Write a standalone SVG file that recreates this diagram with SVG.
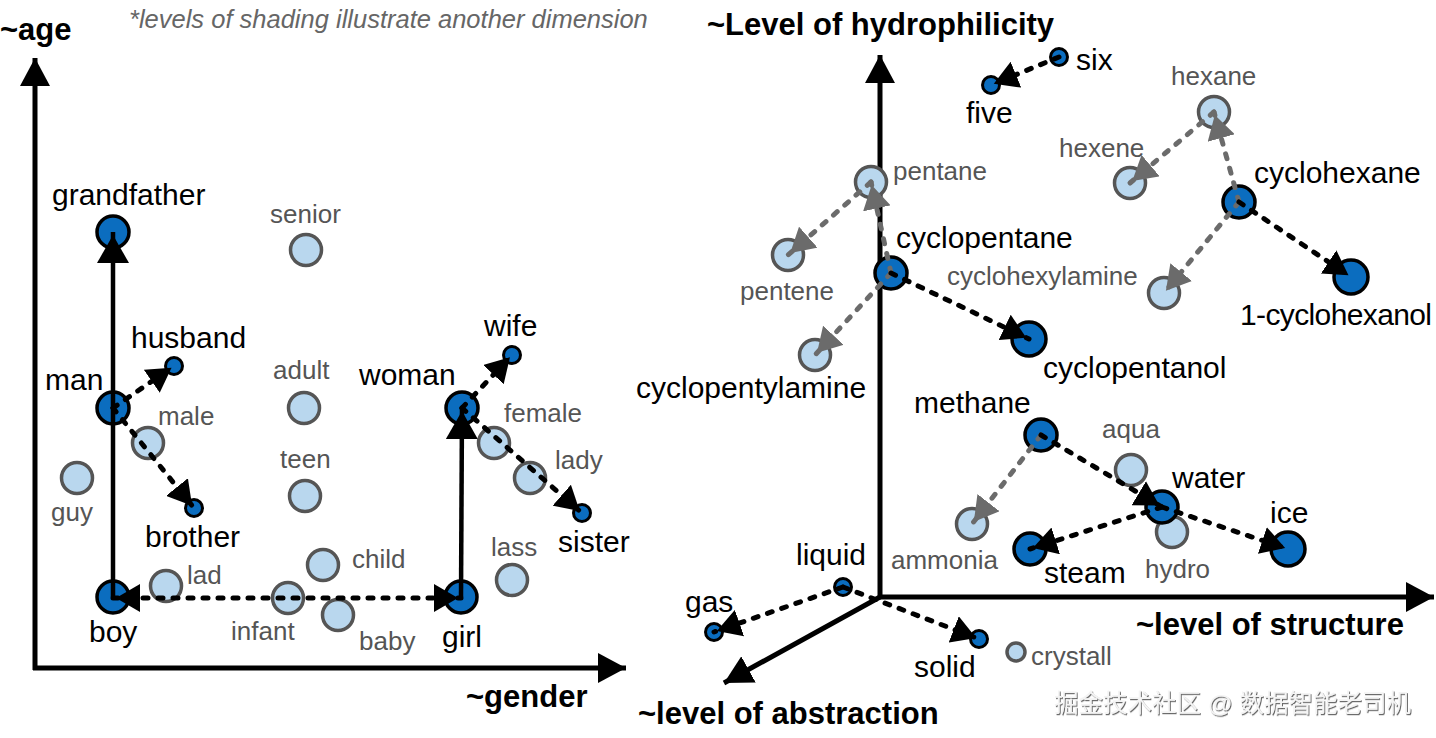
<svg xmlns="http://www.w3.org/2000/svg" width="1436" height="738" viewBox="0 0 1436 738">
<style>
  .lbl{font-family:"Liberation Sans",Arial,sans-serif;font-size:30px;fill:#000}
  .gl{font-family:"Liberation Sans",Arial,sans-serif;font-size:26px;fill:#555}
  .ax{font-family:"Liberation Sans",Arial,sans-serif;font-size:31px;font-weight:bold;fill:#000}
  .note{font-family:"Liberation Sans",Arial,sans-serif;font-size:25.5px;font-style:italic;fill:#666}
  .wm{font-family:"Liberation Sans","Noto Sans CJK SC",sans-serif;font-size:24.5px;fill:#f4f4f4}
  .dk{fill:#0b6dbf;stroke:#000;stroke-width:3.5}
  .sd{fill:#0b6dbf;stroke:#000;stroke-width:3}
  .lt{fill:#b9d7ee;stroke:#555;stroke-width:3.5}
  .axis{stroke:#000;stroke-width:5;fill:none}
  .sol{stroke:#000;stroke-width:4.5;fill:none}
  .db{stroke:#000;stroke-width:5;fill:none;stroke-dasharray:5 10;stroke-linecap:round}
  .dg{stroke:#6b6b6b;stroke-width:5;fill:none;stroke-dasharray:5 10;stroke-linecap:round}
</style>
<defs>
  <marker id="mAx" markerUnits="userSpaceOnUse" markerWidth="28" markerHeight="30" refX="28" refY="15" orient="auto" viewBox="0 0 28 30"><path d="M0,0 L28,15 L0,30 Z" fill="#000"/></marker>
  <marker id="mS" markerUnits="userSpaceOnUse" markerWidth="32" markerHeight="32" refX="31" refY="16" orient="auto" viewBox="0 0 32 32"><path d="M0,0 L28,16 L0,32 Z" fill="#000"/></marker>
  <marker id="mB" markerUnits="userSpaceOnUse" markerWidth="28" markerHeight="28" refX="27" refY="14" orient="auto-start-reverse" viewBox="0 0 28 28"><path d="M0,0 L24,14 L0,28 Z" fill="#000"/></marker>
  <marker id="mG" markerUnits="userSpaceOnUse" markerWidth="28" markerHeight="28" refX="27" refY="14" orient="auto" viewBox="0 0 28 28"><path d="M0,0 L24,14 L0,28 Z" fill="#6b6b6b"/></marker>
  <filter id="sh" x="-5%" y="-20%" width="110%" height="140%"><feDropShadow dx="1" dy="1.2" stdDeviation="0.6" flood-color="#555" flood-opacity="0.9"/></filter>
</defs>
<rect width="1436" height="738" fill="#fff"/>

<g id="axes">
  <line class="axis" x1="35" y1="670" x2="35" y2="58" marker-end="url(#mAx)"/>
  <line class="axis" x1="33" y1="668" x2="626" y2="668" marker-end="url(#mAx)"/>
  <line class="axis" x1="880" y1="599" x2="880" y2="55" marker-end="url(#mAx)"/>
  <line class="axis" x1="878" y1="597" x2="1434" y2="597" marker-end="url(#mAx)"/>
  <line class="axis" x1="880" y1="597" x2="724" y2="683" marker-end="url(#mAx)"/>
  <text class="ax" x="0" y="40">~age</text>
  <text class="ax" x="466" y="707">~gender</text>
  <text class="ax" x="707" y="35">~Level of hydrophilicity</text>
  <text class="ax" x="1136" y="635">~level of structure</text>
  <text class="ax" x="638" y="724">~level of abstraction</text>
  <text class="note" x="129" y="28">*levels of shading illustrate another dimension</text>
</g>

<g id="n-grandfather"><circle class="dk" cx="113" cy="232" r="16"/><text class="lbl" x="52" y="205">grandfather</text></g>
<g id="n-senior"><circle class="lt" cx="306" cy="250" r="15.5"/><text class="gl" x="270" y="223">senior</text></g>
<g id="n-man"><circle class="dk" cx="113" cy="408" r="16"/><text class="lbl" x="45" y="390">man</text></g>
<g id="n-husband"><circle class="sd" cx="174" cy="366" r="8.5"/><text class="lbl" x="131" y="348">husband</text></g>
<g id="n-male"><circle class="lt" cx="148" cy="443" r="15.5"/><text class="gl" x="158" y="425">male</text></g>
<g id="n-guy"><circle class="lt" cx="77" cy="478" r="15.5"/><text class="gl" x="51" y="521">guy</text></g>
<g id="n-brother"><circle class="sd" cx="194" cy="508" r="8.5"/><text class="lbl" x="145" y="547">brother</text></g>
<g id="n-adult"><circle class="lt" cx="304" cy="408" r="15.5"/><text class="gl" x="273" y="379">adult</text></g>
<g id="n-teen"><circle class="lt" cx="305" cy="496" r="15.5"/><text class="gl" x="280" y="468">teen</text></g>
<g id="n-woman"><circle class="dk" cx="462" cy="408" r="16"/><text class="lbl" x="359" y="385">woman</text></g>
<g id="n-wife"><circle class="sd" cx="512" cy="355" r="8.5"/><text class="lbl" x="484" y="336">wife</text></g>
<g id="n-female"><circle class="lt" cx="494" cy="443" r="15.5"/><text class="gl" x="504" y="422">female</text></g>
<g id="n-lady"><circle class="lt" cx="530" cy="478" r="15.5"/><text class="gl" x="555" y="469">lady</text></g>
<g id="n-sister"><circle class="sd" cx="582" cy="513" r="8.5"/><text class="lbl" x="558" y="552">sister</text></g>
<g id="n-lass"><circle class="lt" cx="512" cy="580" r="15.5"/><text class="gl" x="491" y="556">lass</text></g>
<g id="n-child"><circle class="lt" cx="323" cy="565" r="15.5"/><text class="gl" x="352" y="568">child</text></g>
<g id="n-lad"><circle class="lt" cx="166" cy="586" r="15.5"/><text class="gl" x="187" y="584">lad</text></g>
<g id="n-boy"><circle class="dk" cx="113" cy="597" r="16"/><text class="lbl" x="89" y="642">boy</text></g>
<g id="n-infant"><circle class="lt" cx="288" cy="598" r="15.5"/><text class="gl" x="231" y="640">infant</text></g>
<g id="n-baby"><circle class="lt" cx="338" cy="615" r="15.5"/><text class="gl" x="359" y="650">baby</text></g>
<g id="n-girl"><circle class="dk" cx="461" cy="597" r="16"/><text class="lbl" x="442" y="647">girl</text></g>

<g id="n-six"><circle class="sd" cx="1059" cy="57" r="8.5"/><text class="lbl" x="1076" y="70">six</text></g>
<g id="n-five"><circle class="sd" cx="991" cy="85" r="8.5"/><text class="lbl" x="966" y="123">five</text></g>
<g id="n-hexane"><circle class="lt" cx="1214" cy="112" r="15.5"/><text class="gl" x="1171" y="85">hexane</text></g>
<g id="n-hexene"><circle class="lt" cx="1130" cy="183" r="15.5"/><text class="gl" x="1059" y="157">hexene</text></g>
<g id="n-cyclohexane"><circle class="dk" cx="1239" cy="202" r="16"/><text class="lbl" x="1254" y="183">cyclohexane</text></g>
<g id="n-cyclohexanol"><circle class="dk" cx="1351" cy="277" r="17"/><text class="lbl" x="1240" y="325" textLength="192">1-cyclohexanol</text></g>
<g id="n-cyclohexylamine"><circle class="lt" cx="1164" cy="293" r="15.5"/><text class="gl" x="947" y="285">cyclohexylamine</text></g>
<g id="n-pentane"><circle class="lt" cx="871" cy="182" r="15.5"/><text class="gl" x="893" y="180">pentane</text></g>
<g id="n-pentene"><circle class="lt" cx="788" cy="255" r="15.5"/><text class="gl" x="740" y="300">pentene</text></g>
<g id="n-cyclopentane"><circle class="dk" cx="891" cy="273" r="16"/><text class="lbl" x="896" y="248">cyclopentane</text></g>
<g id="n-cyclopentanol"><circle class="dk" cx="1029" cy="339" r="17"/><text class="lbl" x="1043" y="378">cyclopentanol</text></g>
<g id="n-cyclopentylamine"><circle class="lt" cx="815" cy="355" r="15.5"/><text class="lbl" x="636" y="398">cyclopentylamine</text></g>
<g id="n-methane"><circle class="dk" cx="1041" cy="435" r="16"/><text class="lbl" x="914" y="413">methane</text></g>
<g id="n-aqua"><circle class="lt" cx="1131" cy="470" r="15.5"/><text class="gl" x="1102" y="438">aqua</text></g>
<g id="n-hydro"><circle class="lt" cx="1172" cy="532" r="15.5"/><text class="gl" x="1145" y="578">hydro</text></g>
<g id="n-water"><circle class="dk" cx="1162" cy="507" r="16"/><text class="lbl" x="1172" y="488">water</text></g>
<g id="n-ice"><circle class="dk" cx="1288" cy="549" r="17"/><text class="lbl" x="1270" y="523">ice</text></g>
<g id="n-ammonia"><circle class="lt" cx="972" cy="524" r="15.5"/><text class="gl" x="891" y="569">ammonia</text></g>
<g id="n-steam"><circle class="dk" cx="1030" cy="549" r="16"/><text class="lbl" x="1044" y="583">steam</text></g>
<g id="n-liquid"><circle class="sd" cx="843" cy="587" r="8.5"/><text class="lbl" x="796" y="565">liquid</text></g>
<g id="n-gas"><circle class="sd" cx="714" cy="632" r="8.5"/><text class="lbl" x="685" y="612">gas</text></g>
<g id="n-solid"><circle class="sd" cx="979" cy="639" r="8.5"/><text class="lbl" x="914" y="677">solid</text></g>
<g id="n-crystall"><circle class="lt" cx="1016" cy="652" r="9" stroke-width="3"/><text class="gl" x="1031" y="665">crystall</text></g>

<g id="connectors">
  <line class="sol" x1="113" y1="597" x2="113" y2="232" marker-end="url(#mS)"/>
  <line class="sol" x1="461" y1="597" x2="462" y2="408" marker-end="url(#mS)"/>
  <line class="db" x1="113" y1="598" x2="461" y2="598" marker-start="url(#mB)" marker-end="url(#mB)"/>
  <line class="db" x1="113" y1="408" x2="174" y2="366" marker-end="url(#mB)"/>
  <line class="db" x1="113" y1="408" x2="194" y2="508" marker-end="url(#mB)"/>
  <line class="db" x1="462" y1="408" x2="512" y2="355" marker-end="url(#mB)"/>
  <line class="db" x1="462" y1="408" x2="582" y2="513" marker-end="url(#mB)"/>

  <line class="db" x1="1059" y1="57" x2="991" y2="85" marker-end="url(#mB)"/>
  <line class="dg" x1="1214" y1="112" x2="1130" y2="183" marker-end="url(#mG)"/>
  <line class="dg" x1="1239" y1="202" x2="1214" y2="112" marker-end="url(#mG)"/>
  <line class="dg" x1="1239" y1="202" x2="1164" y2="293" marker-end="url(#mG)"/>
  <line class="db" x1="1239" y1="202" x2="1351" y2="277" marker-end="url(#mB)"/>
  <line class="dg" x1="891" y1="273" x2="871" y2="182" marker-end="url(#mG)"/>
  <line class="dg" x1="871" y1="182" x2="788" y2="255" marker-end="url(#mG)"/>
  <line class="dg" x1="891" y1="273" x2="815" y2="355" marker-end="url(#mG)"/>
  <line class="db" x1="891" y1="273" x2="1029" y2="339" marker-end="url(#mB)"/>
  <line class="dg" x1="1041" y1="435" x2="972" y2="524" marker-end="url(#mG)"/>
  <line class="db" x1="1041" y1="435" x2="1162" y2="507" marker-end="url(#mB)"/>
  <line class="db" x1="1162" y1="507" x2="1030" y2="549" marker-end="url(#mB)"/>
  <line class="db" x1="1162" y1="507" x2="1288" y2="549" marker-end="url(#mB)"/>
  <line class="db" x1="843" y1="587" x2="714" y2="632" marker-end="url(#mB)"/>
  <line class="db" x1="843" y1="587" x2="979" y2="639" marker-end="url(#mB)"/>
</g>

<text class="wm" x="1054" y="712" filter="url(#sh)">掘金技术社区 @ 数据智能老司机</text>
</svg>
